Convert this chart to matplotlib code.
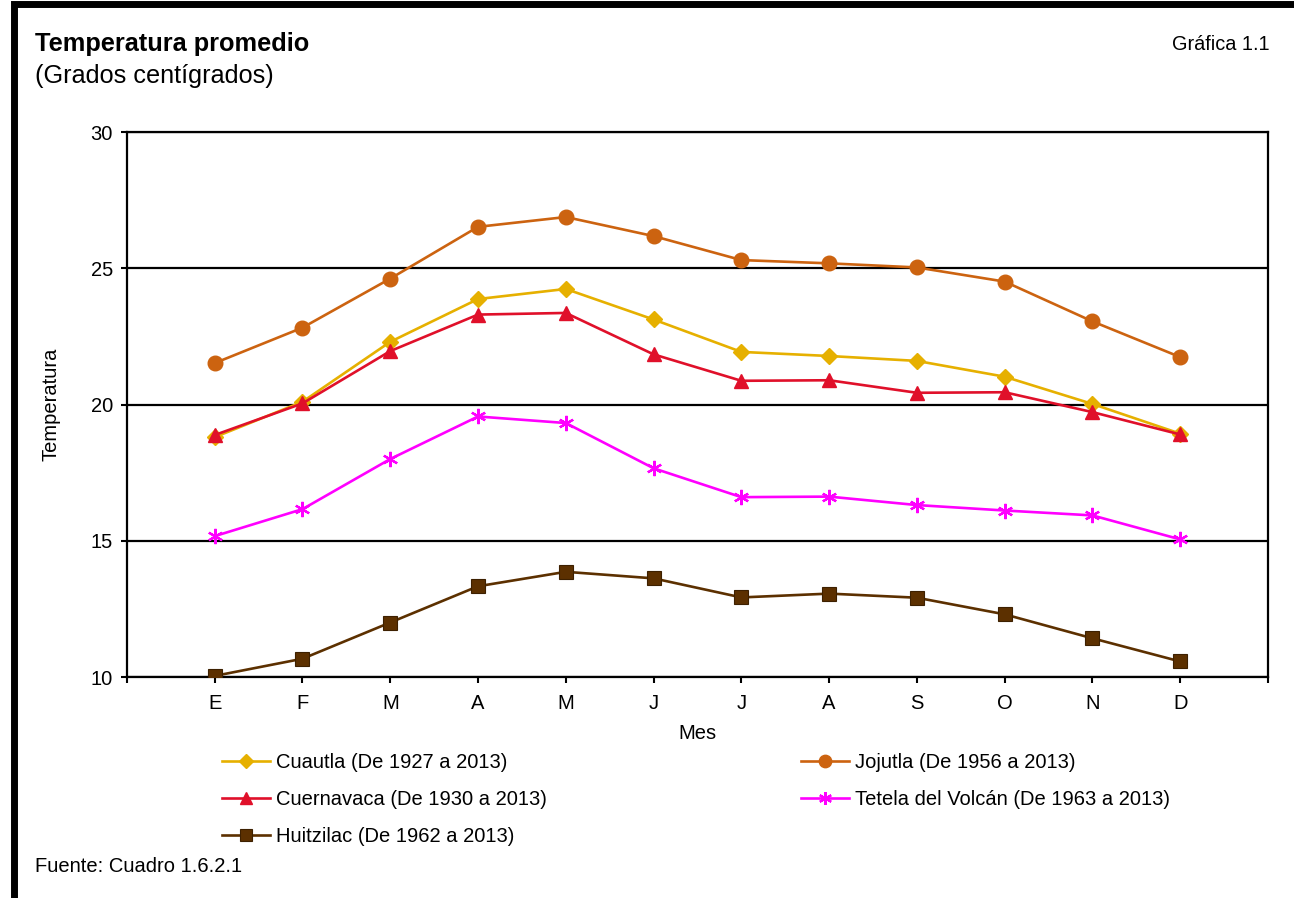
import matplotlib.pyplot as plt
from matplotlib.lines import Line2D

plt.rcParams['font.family'] = ['Liberation Sans', 'DejaVu Sans']

meses = ['E', 'F', 'M', 'A', 'M', 'J', 'J', 'A', 'S', 'O', 'N', 'D']

cuautla = [18.80, 20.10, 22.30, 23.87, 24.24, 23.12, 21.93, 21.78, 21.60, 21.02, 20.02, 18.93]
jojutla = [21.52, 22.82, 24.62, 26.52, 26.88, 26.18, 25.30, 25.18, 25.03, 24.51, 23.05, 21.74]
cuernavaca = [18.88, 20.04, 21.96, 23.30, 23.36, 21.84, 20.87, 20.89, 20.43, 20.45, 19.72, 18.90]
tetela = [15.17, 16.16, 18.00, 19.56, 19.32, 17.66, 16.60, 16.62, 16.31, 16.11, 15.93, 15.05]
huitzilac = [10.04, 10.67, 12.00, 13.33, 13.86, 13.62, 12.92, 13.06, 12.91, 12.30, 11.42, 10.57]

etiquetas = ['Cuautla (De 1927 a 2013)', 'Jojutla (De 1956 a 2013)',
             'Cuernavaca (De 1930 a 2013)', 'Tetela del Volcán (De 1963 a 2013)',
             'Huitzilac (De 1962 a 2013)']

fs = 14.5

fig = plt.figure(figsize=(12.94, 8.98), dpi=100)
ax = fig.add_axes([0.0981, 0.2461, 0.8818, 0.6069])

x = list(range(len(meses)))
lw = 1.9

l_cua, = ax.plot(x, cuautla, color='#E6B000', lw=lw, marker='D', ms=8,
                 label=etiquetas[0], zorder=4)
l_joj, = ax.plot(x, jojutla, color='#CC6310', lw=lw, marker='o', ms=10.5,
                 label=etiquetas[1], zorder=3)
l_cue, = ax.plot(x, cuernavaca, color='#E0102A', lw=lw, marker='^', ms=10.5,
                 label=etiquetas[2], zorder=5)
l_tet, = ax.plot(x, tetela, color='#FF00FF', lw=lw, marker=(6, 2, 0), ms=11,
                 mew=1.6, label=etiquetas[3], zorder=4)
l_hui, = ax.plot(x, huitzilac, color='#5C3000', lw=lw, marker='s', ms=10,
                 mec='#3d2000', mew=0.8, label=etiquetas[4], zorder=4)

ax.set_xlim(-1, 12)
ax.set_ylim(10, 30)
ax.set_yticks([10, 15, 20, 25, 30])
ax.set_xticks(range(-1, 13))
ax.set_xticklabels([''] + meses + [''])
ax.tick_params(axis='both', direction='out', length=4, width=1.5,
               labelsize=fs, colors='black')
ax.tick_params(axis='x', pad=8)
ax.tick_params(axis='y', pad=6)
for s in ax.spines.values():
    s.set_linewidth(1.6)
ax.yaxis.grid(True, color='black', lw=1.6)
ax.set_axisbelow(True)

ax.set_xlabel('Mes', fontsize=fs, labelpad=8)
ax.set_ylabel('Temperatura', fontsize=fs, labelpad=22)

fig.text(0.027, 0.951, 'Temperatura promedio', fontsize=18.3, fontweight='bold',
         va='center', ha='left')
fig.text(0.027, 0.915, '(Grados centígrados)', fontsize=18.2, va='center', ha='left')
fig.text(0.981, 0.950, 'Gráfica 1.1', fontsize=14.3, va='center', ha='right')
fig.text(0.027, 0.035, 'Fuente: Cuadro 1.6.2.1', fontsize=fs, va='center', ha='left')

handles = [l_cua, l_cue, l_hui, l_joj, l_tet]
leg_handles = [Line2D([], [], color=h.get_color(), lw=lw, marker=h.get_marker(),
                      ms=h.get_markersize() * 0.85, mew=h.get_markeredgewidth(),
                      mec=h.get_markeredgecolor())
               for h in handles]
fig.legend(leg_handles, [h.get_label() for h in handles], ncol=2,
           loc='upper left', bbox_to_anchor=(0.1716, 1 - 753 / 898),
           frameon=False, fontsize=fs, handlelength=2.4, handletextpad=0.3,
           labelspacing=0.9, columnspacing=12.6, borderpad=0, borderaxespad=0)

# marco negro alrededor de la figura
fig.patches.append(plt.Rectangle((0.011, -0.01), 1.5, 1.005, fill=False,
                                 lw=5, edgecolor='black', transform=fig.transFigure))

fig.savefig('out.png', dpi=100)
